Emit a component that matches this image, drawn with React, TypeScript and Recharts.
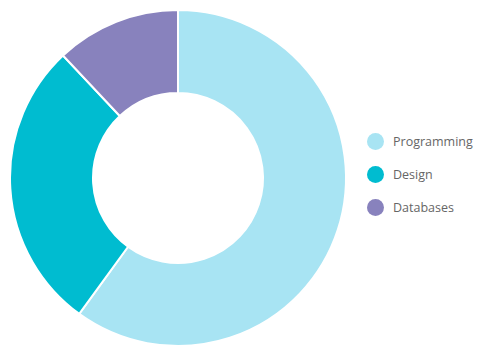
import { PieChart, Pie, Cell, Legend } from 'recharts';

const labels = ['Programming', 'Design', 'Databases'];
const values = [60, 28, 12];
const colors = ['#a8e4f3', '#00bcd0', '#8882bd'];

const data = labels.map((name, i) => ({ name, value: values[i] }));

function SkillLegend() {
  return (
    <div style={{ fontFamily: '"Open Sans", sans-serif', fontSize: 12.5, color: '#666' }}>
      {labels.map((name, i) => (
        <div key={name} style={{ display: 'flex', alignItems: 'center', height: 33 }}>
          <span
            style={{
              width: 17,
              height: 17,
              borderRadius: '50%',
              background: colors[i],
              display: 'inline-block',
              marginRight: 9,
            }}
          />
          <span>{name}</span>
        </div>
      ))}
    </div>
  );
}

export default function App() {
  return (
    <PieChart width={490} height={357} margin={{ top: 0, right: 0, bottom: 0, left: 0 }}>
      <Pie
        data={data}
        dataKey="value"
        nameKey="name"
        cx={170}
        cy={170}
        innerRadius={85}
        outerRadius={168}
        startAngle={90}
        endAngle={-270}
        stroke="#fff"
        strokeWidth={2}
        isAnimationActive={false}
      >
        {data.map((d, i) => (
          <Cell key={d.name} fill={colors[i]} />
        ))}
      </Pie>
      <Legend
        content={() => <SkillLegend />}
        wrapperStyle={{ position: 'absolute', left: 359, top: 117, width: 130 }}
      />
    </PieChart>
  );
}
